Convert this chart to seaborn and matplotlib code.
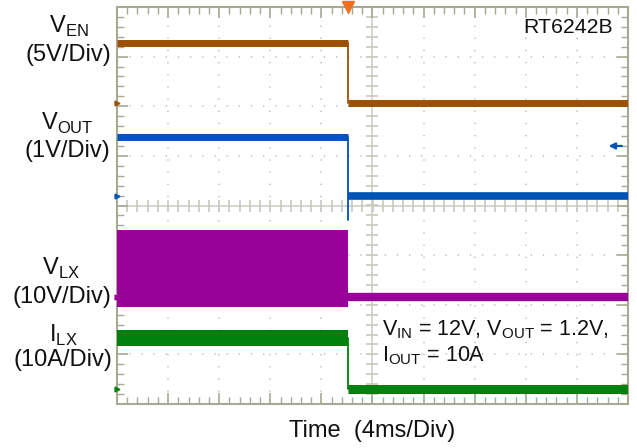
import numpy as np
import pandas as pd
import matplotlib
matplotlib.use("Agg")
import matplotlib.pyplot as plt
import seaborn as sns

# scope traces, time and level in divisions (screen is 10 x 8 div, centre = 0)
t_start, t_fall, t_end = -5.0, -0.47, 5.0
ven_levels = [3.27, 2.07]          # before / after the EN falling edge
vout_levels = [1.39, 0.20]
vout_dip = -0.30
vlx_on_band = [-2.04, -0.50]       # switching envelope before the edge
vlx_off = -1.85
ilx_levels = [-2.67, -3.69]
ilx_ripple = 0.17

trace_colors = {"VEN": "#9c5000", "VOUT": "#0052b4", "VLX": "#990099", "ILX": "#00800f"}

sns.set_theme(style="white")
plt.rcParams['font.family'] = ['Liberation Sans', 'DejaVu Sans']
plt.rcParams['mathtext.fontset'] = 'custom'
plt.rcParams['mathtext.rm'] = 'Liberation Sans'

W, H = 637, 448
fig = plt.figure(figsize=(W / 100, H / 100), dpi=100)
ax = fig.add_axes([117 / W, 1 - 404 / H, (628 - 117) / W, (404 - 7) / H])
ax.set_xlim(-5, 5)
ax.set_ylim(-4, 4)

frame_col = "#a8a894"
grid_col = "#c4c4bc"

# dotted graticule
for x in range(-4, 5):
    if x != 0:
        ax.axvline(x, color=grid_col, lw=1.2, ls=(0, (0.8, 6.5)), zorder=0)
for y in range(-3, 4):
    if y != 0:
        ax.axhline(y, color=grid_col, lw=1.2, ls=(0, (0.8, 6.5)), zorder=0)
ax.axvline(0, color="#cfcfc6", lw=1.2, zorder=0)
ax.axhline(0, color="#cfcfc6", lw=1.2, zorder=0)
minor_x = np.arange(-5, 5.01, 0.2)
minor_y = np.arange(-4, 4.01, 0.2)
ax.plot(np.zeros_like(minor_y), minor_y, ls="none", marker="_", ms=9, mew=1.2, color="#c8c8be", zorder=0)
ax.plot(minor_x, np.zeros_like(minor_x), ls="none", marker="|", ms=9, mew=1.2, color="#c8c8be", zorder=0)

# border ticks, pointing inward
ax.set_xticks(np.arange(-5, 5.01, 1.0))
ax.set_yticks(np.arange(-4, 4.01, 1.0))
ax.set_xticks(minor_x, minor=True)
ax.set_yticks(minor_y, minor=True)
ax.tick_params(which="both", direction="in", top=True, right=True, bottom=True, left=True,
               color=frame_col, labelbottom=False, labelleft=False)
ax.tick_params(which="major", length=8, width=1.2)
ax.tick_params(which="minor", length=5, width=1.0)
for s in ax.spines.values():
    s.set_color(frame_col)
    s.set_linewidth(1.5)


def level(x0, x1, y, color, lw):
    sns.lineplot(x=[x0, x1], y=[y, y], ax=ax, color=color, lw=lw, estimator=None,
                 sort=False, solid_capstyle="butt", zorder=3)


def edge(y0, y1, color):
    ax.plot([t_fall, t_fall], [y0, y1], color=color, lw=1.3, zorder=3)


# VEN
level(t_start, t_fall, ven_levels[0], trace_colors["VEN"], 5)
edge(ven_levels[0], ven_levels[1], trace_colors["VEN"])
level(t_fall, t_end, ven_levels[1], trace_colors["VEN"], 5)
# VOUT
level(t_start, t_fall, vout_levels[0], trace_colors["VOUT"], 5)
edge(vout_levels[0], vout_dip, trace_colors["VOUT"])
level(t_fall, t_end, vout_levels[1], trace_colors["VOUT"], 5.5)
# VLX
ax.fill_between([t_start, t_fall], vlx_on_band[0], vlx_on_band[1], color=trace_colors["VLX"], lw=0, zorder=3)
level(t_fall, t_end, vlx_off, trace_colors["VLX"], 6)
# ILX
ax.fill_between([t_start, t_fall], ilx_levels[0] - ilx_ripple, ilx_levels[0] + ilx_ripple,
                color=trace_colors["ILX"], lw=0, zorder=3)
edge(ilx_levels[0], ilx_levels[1], trace_colors["ILX"])
level(t_fall, t_end, ilx_levels[1], trace_colors["ILX"], 6.5)

# ground markers on left edge
for lv, key in [(ven_levels[1], "VEN"), (vout_levels[1], "VOUT"), (vlx_off, "VLX"), (ilx_levels[1], "ILX")]:
    ax.plot([t_start], [lv], marker=">", ms=3.5, color=trace_colors[key], clip_on=False, zorder=5)

# trigger marker and reference arrow
ax.plot([t_fall], [4.0], marker="v", ms=8, color="#f07020", clip_on=False, zorder=5)
ax.annotate("", xy=(4.62, 1.2), xytext=(4.88, 1.2),
            arrowprops=dict(arrowstyle="-|>", color="#0052b4", lw=1.6, mutation_scale=9,
                            shrinkA=0, shrinkB=0))

# texts
ax.text(4.7, 3.58, "RT6242B", ha="right", va="center", fontsize=15.3, color="#111111")
ax.text(0.18, -2.5, r"V$_{\mathrm{IN}}$ = 12V, V$_{\mathrm{OUT}}$ = 1.2V,", ha="left", va="center",
        fontsize=15.5, color="#111111")
ax.text(0.18, -3.02, r"I$_{\mathrm{OUT}}$ = 10A", ha="left", va="center", fontsize=15.5, color="#111111")

fs = 17


def ftext(px, py, s):
    fig.text(px / W, 1 - py / H, s, ha="center", va="baseline", fontsize=fs, color="#111111")


ftext(69, 33, r"V$_{\mathrm{EN}}$")
ftext(68, 61, "(5V/Div)")
ftext(67, 130, r"V$_{\mathrm{OUT}}$")
ftext(67, 157, "(1V/Div)")
ftext(61, 275, r"V$_{\mathrm{LX}}$")
ftext(62, 303, "(10V/Div)")
ftext(63, 342, r"I$_{\mathrm{LX}}$")
ftext(63, 366, "(10A/Div)")
ftext(372, 437, "Time  (4ms/Div)")

fig.savefig("out.png", dpi=100)
